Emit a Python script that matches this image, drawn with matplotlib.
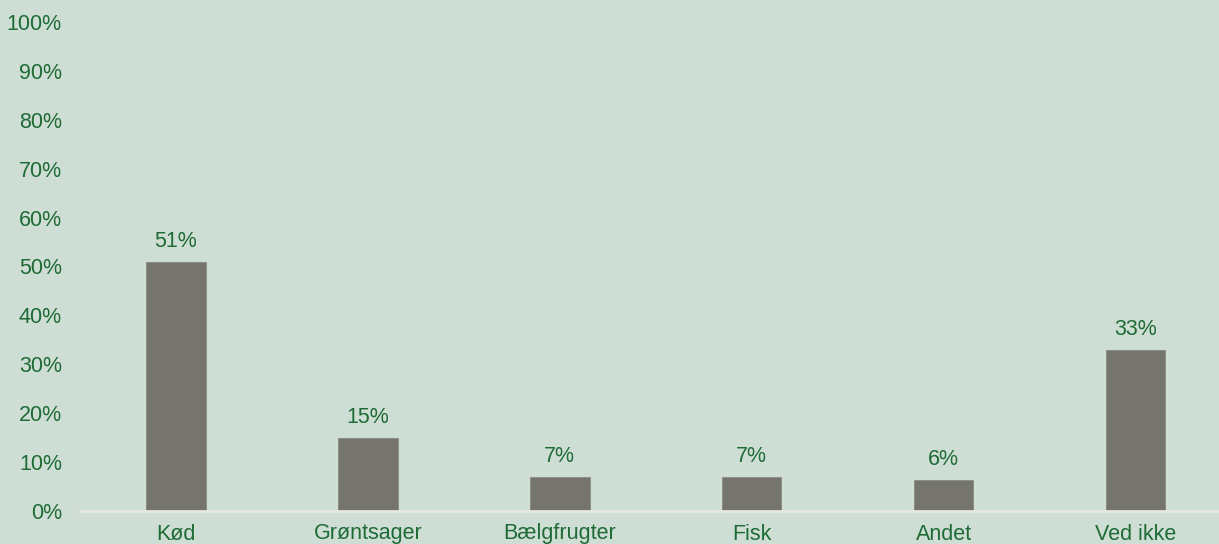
import matplotlib.pyplot as plt
from matplotlib.ticker import PercentFormatter

plt.rcParams['font.family'] = ['Liberation Sans', 'DejaVu Sans']

categories = ['Kød', 'Grøntsager', 'Bælgfrugter', 'Fisk', 'Andet', 'Ved ikke']
values = [51, 15, 7, 7, 6.4, 33]
labels = ['51%', '15%', '7%', '7%', '6%', '33%']

bg = '#CEDED4'
green = '#1E6B36'
bar_col = '#76756D'

fig = plt.figure(figsize=(12.19, 5.44), dpi=100, facecolor=bg)
ax = fig.add_axes([80 / 1219, 33 / 544, 1139 / 1219, 489 / 544])
ax.set_facecolor(bg)

x = range(len(categories))
ax.bar(x, values, width=0.31, color=bar_col, edgecolor='#8a8983', linewidth=0.6, zorder=2)

for i, (v, lab) in enumerate(zip(values, labels)):
    ax.annotate(lab, (i, v), xytext=(0, 14.5), textcoords='offset points',
                ha='center', va='center', fontsize=15.5, color=green)

ax.set_xlim(-0.5, 5.435)
ax.set_ylim(0, 100)
ax.set_yticks(range(0, 101, 10))
ax.yaxis.set_major_formatter(PercentFormatter(decimals=0))
ax.set_xticks(list(x))
ax.set_xticklabels(categories)
ax.tick_params(axis='both', length=0, labelsize=15.5, labelcolor=green)
ax.tick_params(axis='x', pad=9)
ax.tick_params(axis='y', pad=13)
for lab in ax.get_yticklabels():
    lab.set_verticalalignment('center_baseline')

for s in ['top', 'right', 'left']:
    ax.spines[s].set_visible(False)
ax.spines['bottom'].set_color('#E6E6E2')
ax.spines['bottom'].set_linewidth(2)

fig.savefig('out.png', dpi=100, facecolor=bg)
